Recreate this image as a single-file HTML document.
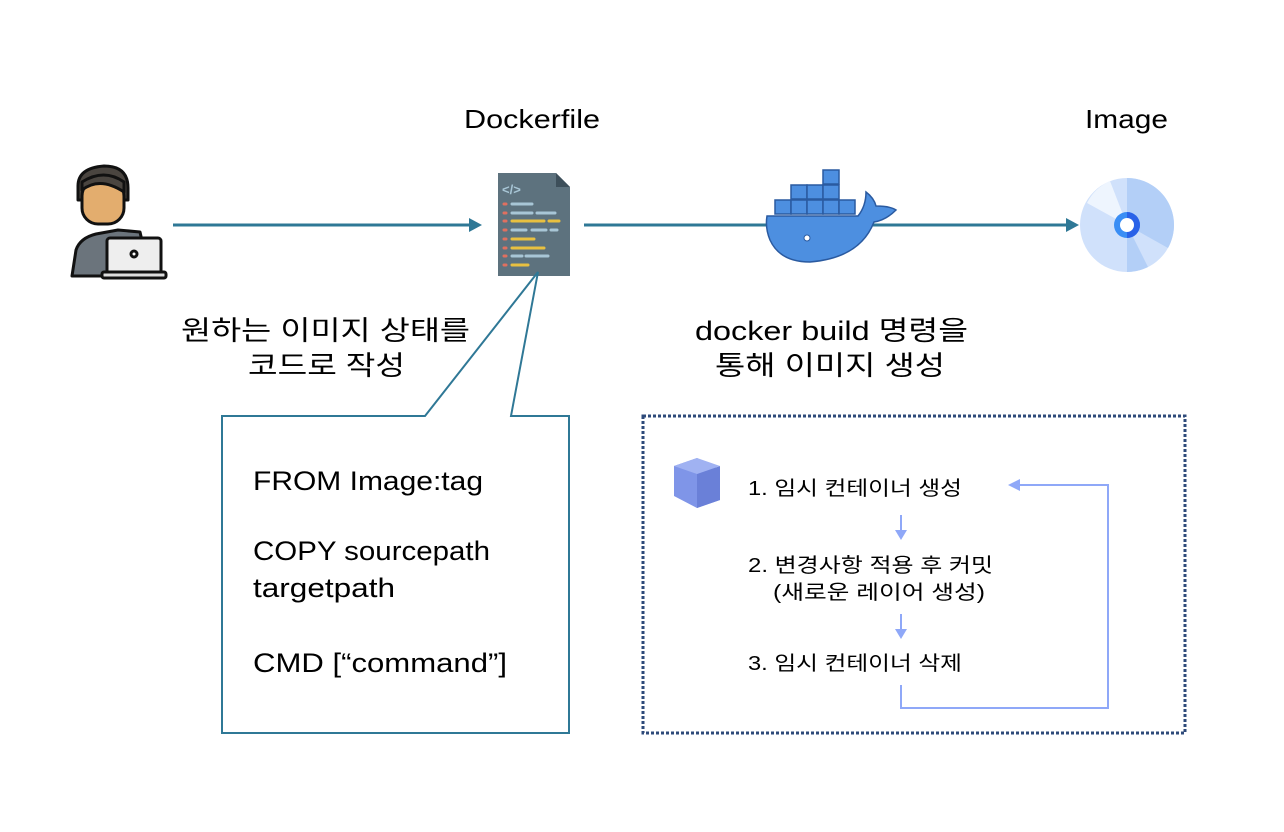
<!DOCTYPE html>
<html><head><meta charset="utf-8"><style>html,body{margin:0;padding:0;background:#fff}svg{display:block}</style></head><body>
<svg width="1284" height="832" viewBox="0 0 1284 832" xmlns="http://www.w3.org/2000/svg" font-family="'Liberation Sans','Noto Sans CJK KR',sans-serif">
<rect width="1284" height="832" fill="#fff"/>
<!-- person -->
<g stroke="#111" stroke-width="3" stroke-linejoin="round">
<path d="M72 276 L76 250 Q80 238 96 234 L118 230 L140 232 L150 276 Z" fill="#6b747c"/>
<path d="M78 186 Q78 168 104 166 Q128 166 128 188 L128 200 L78 200 Z" fill="#4a4540"/>
<rect x="82" y="180" width="42" height="44" rx="16" fill="#e3ad6e"/>
<path d="M82 190 Q100 176 124 192 L124 182 Q104 168 82 182Z" fill="#4a4540"/>
<rect x="107" y="238" width="54" height="36" rx="3" fill="#eee"/>
<rect x="102" y="272" width="64" height="6" rx="2" fill="#ddd"/>
<circle cx="134" cy="254" r="3" fill="#fff"/>
</g>
<!-- dockerfile icon -->
<path d="M498 173 H556 L570 187 V276 H498 Z" fill="#5d727e" rx="3"/>
<path d="M556 173 L570 187 H556Z" fill="#3d4f5a"/>
<text x="502" y="194" fill="#a8c6d6" font-size="13" font-weight="bold">&lt;/&gt;</text>
<g stroke-width="3" stroke-linecap="round">
<g stroke="#e07060"><path d="M504 204h2M504 213h2M504 221h2M504 230h2M504 239h2M504 248h2M504 256h2M504 265h2"/></g>
<path d="M512 204h20M512 213h20M537 213h18M512 230h14M532 230h14M551 230h6M512 256h10M526 256h22M532 248h6" stroke="#a8c6d6"/>
<path d="M512 221h32M549 221h10M512 239h22M512 248h32M512 265h16" stroke="#e8c040"/>
</g>
<!-- arrows -->
<g stroke="#2f7896" stroke-width="3" fill="#2f7896">
<line x1="173" y1="225" x2="470" y2="225"/>
<line x1="584" y1="225" x2="1066" y2="225"/>
</g>
<path d="M469 218 L482 225 L469 232Z" fill="#2f7896"/>
<path d="M1066 218 L1079 225 L1066 232Z" fill="#2f7896"/>
<!-- docker whale -->
<g stroke="#2a5aa0" stroke-width="1.5" fill="#4d8fe0">
<rect x="823" y="170" width="16" height="14"/>
<rect x="791" y="185" width="16" height="14"/><rect x="807" y="185" width="16" height="14"/><rect x="823" y="185" width="16" height="14"/>
<rect x="775" y="200" width="16" height="14"/><rect x="791" y="200" width="16" height="14"/><rect x="807" y="200" width="16" height="14"/><rect x="823" y="200" width="16" height="14"/><rect x="839" y="200" width="16" height="14"/>
<path d="M767 216 H858 Q866 206 866 192 Q874 198 876 206 Q890 206 896 210 Q886 220 874 222 Q860 258 810 262 Q780 262 770 240 Q765 228 767 216Z"/>
</g>
<circle cx="807" cy="238" r="3" fill="#fff" stroke="#2a5aa0"/>
<!-- disc -->
<circle cx="1127" cy="225" r="47" fill="#d0e1fb"/>
<path d="M1127 178 A47 47 0 0 1 1168 248 L1127 225Z" fill="#b3cff7"/>
<path d="M1127 225 L1127 272 A47 47 0 0 0 1148 267Z" fill="#b3cff7"/>
<path d="M1127 225 L1087 203 A47 47 0 0 1 1110 181Z" fill="#eef5fe"/>
<circle cx="1127" cy="225" r="13" fill="#3a8ef5"/>
<path d="M1127 212 A13 13 0 0 1 1127 238Z" fill="#2a62e8"/>
<circle cx="1127" cy="225" r="7" fill="#fff"/>
<!-- titles -->
<text x="464" y="128" font-size="26" textLength="136" lengthAdjust="spacingAndGlyphs">Dockerfile</text>
<text x="1085" y="128" font-size="26" textLength="83" lengthAdjust="spacingAndGlyphs">Image</text>
<text x="181" y="340" font-size="27" textLength="289" lengthAdjust="spacingAndGlyphs">원하는 이미지 상태를</text>
<text x="248" y="375" font-size="27" textLength="157" lengthAdjust="spacingAndGlyphs">코드로 작성</text>
<text x="695" y="340" font-size="27" textLength="273" lengthAdjust="spacingAndGlyphs">docker build 명령을</text>
<text x="715" y="375" font-size="27" textLength="230" lengthAdjust="spacingAndGlyphs">통해 이미지 생성</text>
<!-- callout -->
<path d="M222 416 H425 L538 272 L511 416 H569 V733 H222 Z" fill="#fff" stroke="#2f7896" stroke-width="2"/>
<g font-size="27">
<text x="253" y="490" textLength="230" lengthAdjust="spacingAndGlyphs">FROM Image:tag</text>
<text x="253" y="560" textLength="237" lengthAdjust="spacingAndGlyphs">COPY sourcepath</text>
<text x="253" y="597" textLength="142" lengthAdjust="spacingAndGlyphs">targetpath</text>
<text x="253" y="672" textLength="254" lengthAdjust="spacingAndGlyphs">CMD [“command”]</text>
</g>
<!-- dotted box -->
<rect x="643" y="416" width="542" height="317" fill="none" stroke="#2e4a7a" stroke-width="3" stroke-dasharray="3 2"/>
<!-- container -->
<path d="M674 466 L697 458 L720 470 L720 500 L697 508 L674 496 Z" fill="#7f95e8"/>
<path d="M697 474 L720 466 L720 500 L697 508Z" fill="#6a80d8"/>
<path d="M674 466 L697 458 L720 466 L697 474Z" fill="#a0b2f2"/>
<g font-size="20">
<text x="748" y="495" textLength="214" lengthAdjust="spacingAndGlyphs">1. 임시 컨테이너 생성</text>
<text x="748" y="572" textLength="245" lengthAdjust="spacingAndGlyphs">2. 변경사항 적용 후 커밋</text>
<text x="773" y="599" textLength="212" lengthAdjust="spacingAndGlyphs">(새로운 레이어 생성)</text>
<text x="748" y="670" textLength="214" lengthAdjust="spacingAndGlyphs">3. 임시 컨테이너 삭제</text>
</g>
<g stroke="#8fa8f8" stroke-width="2" fill="none">
<line x1="901" y1="515" x2="901" y2="532"/>
<line x1="901" y1="614" x2="901" y2="631"/>
<path d="M901 685 V708 H1108 V485 H1018"/>
</g>
<g fill="#8fa8f8">
<path d="M895 530 L907 530 L901 540Z"/>
<path d="M895 629 L907 629 L901 639Z"/>
<path d="M1020 479 L1020 491 L1008 485Z"/>
</g>
</svg>
</body></html>
